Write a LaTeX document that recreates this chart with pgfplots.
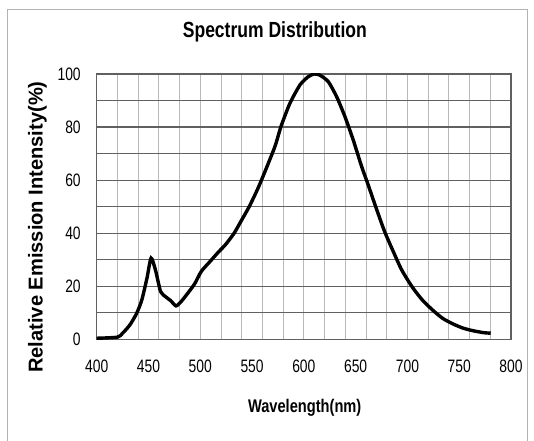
\documentclass[border=0pt]{standalone}
\usepackage{fontspec}
\setmainfont{Liberation Sans}
\newfontfamily\narrowfont{Liberation Sans}[FakeStretch=0.8]
\newfontfamily\tickfont{Liberation Sans}[FakeStretch=0.77]
\usepackage{pgfplots}
\pgfplotsset{compat=1.18}

\begin{document}
\begin{tikzpicture}
\useasboundingbox (0,0) rectangle (534bp,441bp);
\draw[gray!60, line width=1bp] (7.5bp,0) -- (7.5bp,431.7bp) -- (527bp,431.7bp) -- (527bp,0);
\begin{axis}[
  at={(96.7bp,101.7bp)}, anchor=south west,
  scale only axis, width=414.3bp, height=265.3bp,
  xmin=400, xmax=800, ymin=0, ymax=100,
  xtick={400,450,...,800}, ytick={0,20,...,100},
  minor xtick={400,420,...,800}, minor ytick={10,30,...,90},
  major tick length=0pt, minor tick length=0pt,
  xmajorgrids=false, xminorgrids=true, ymajorgrids=true, yminorgrids=true,
  minor x grid style={gray!55, line width=0.9bp},
  major y grid style={gray!75!black, line width=1.2bp},
  minor y grid style={gray!75!black, line width=1.2bp},
  axis line style={gray!75!black, line width=1.1bp},
  /pgf/number format/assume math mode=true,
  ticklabel style={font=\tickfont\fontsize{18bp}{20bp}\selectfont, text=black},
  xticklabel style={yshift=-17bp},
  yticklabel style={xshift=-12.5bp},
  title={Spectrum Distribution},
  title style={at={(0.430,1.138)}, anchor=center,
    font=\narrowfont\bfseries\fontsize{21.9bp}{24bp}\selectfont},
  xlabel={Wavelength(nm)},
  xlabel style={at={(0.502,-0.259)}, anchor=center,
    font=\narrowfont\bfseries\fontsize{18.3bp}{20bp}\selectfont},
  ylabel={Relative Emission Intensity(\%)},
  ylabel style={at={(-0.143,0.423)}, anchor=center,
    font=\bfseries\fontsize{20.1bp}{22bp}\selectfont},
]
\addplot[black, line width=3.4bp, smooth, tension=0.4] coordinates {
  (400,0.4) (420,0.8) (425,2.3) (432,5.4) (438.6,9.8) (443.6,14.9)
  (448.5,23) (452.5,30.6) (456.8,26) (461.7,18) (466.7,16) (471.6,14.5)
  (476.6,12.6) (481.5,14.2) (488,17.4) (494.7,21) (501,25.6) (509.6,29.4)
  (517.8,33) (524.4,35.7) (532.7,40) (539.3,44.5) (547.5,50.2) (555.8,57)
  (564,64.7) (572.3,72.9) (578,80.3) (586.6,89) (596.3,95.9) (604.3,99)
  (610,100) (615.3,99.6) (623.6,97.1) (631.7,91.4) (639.7,83.9)
  (647.7,75.1) (655.8,65.1) (661.4,59) (669.7,49.6) (677.9,40.7)
  (686.2,33.2) (694.4,26.2) (704.3,19.9) (714.2,14.9) (724.1,11.1)
  (734,7.9) (743.9,5.8) (753.8,4.2) (763.7,3.2) (773.6,2.5) (780.4,2.3)
};
\end{axis}
\end{tikzpicture}
\end{document}
